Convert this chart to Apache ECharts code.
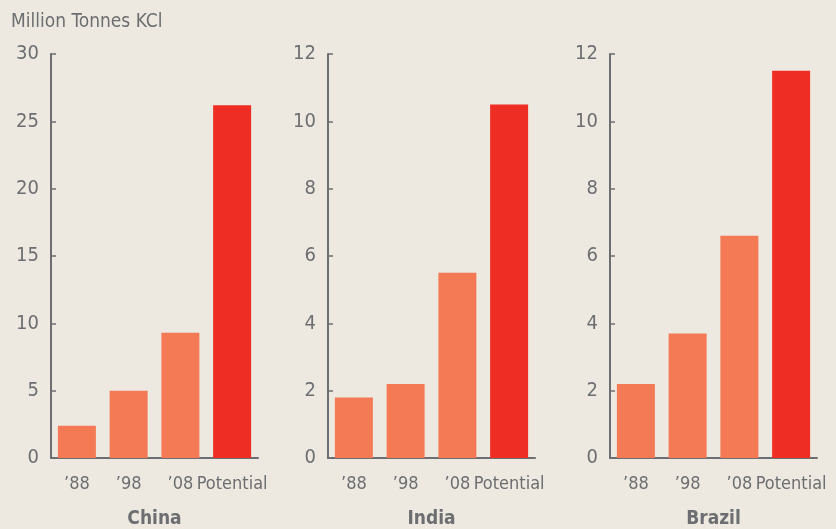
<!DOCTYPE html>
<html>
<head>
<meta charset="utf-8">
<script src="https://cdn.jsdelivr.net/npm/echarts@6/dist/echarts.min.js"></script>
<style>
  html, body { margin: 0; padding: 0; background: #ede9e0; }
  #chart { width: 836px; height: 529px; }
</style>
</head>
<body>
<div id="chart"></div>
<script>
// данные
const categories = ['\u201988', '\u201998', '\u201908', 'Potential'];
const countries = ['China', 'India', 'Brazil'];
const chinaValues = [2.4, 5.0, 9.3, 26.2];
const indiaValues = [1.8, 2.2, 5.5, 10.5];
const brazilValues = [2.2, 3.7, 6.6, 11.5];
const yMax = [30, 12, 12];
const yStep = [5, 2, 2];

const allValues = [chinaValues, indiaValues, brazilValues];
const textColor = '#6d6e71';
const font = '"DejaVu Sans Condensed", sans-serif';
const barColor = '#f47a55';
const potentialColor = '#ee2e24';

const gridLefts = [51, 328, 610];
const gridWidth = 207;

const chart = echarts.init(document.getElementById('chart'));

const option = {
    backgroundColor: '#ede9e0',
    animation: false,
    title: {
        text: 'Million Tonnes KCl',
        left: 6, top: 8,
        textStyle: { color: textColor, fontFamily: font, fontSize: 19, fontWeight: 'normal' }
    },
    grid: gridLefts.map(l => ({ left: l, width: gridWidth, top: 54, bottom: 71, outerBoundsMode: 'none' })),
    xAxis: countries.map((c, i) => ({
        type: 'category',
        gridIndex: i,
        data: categories,
        name: c,
        nameLocation: 'middle',
        nameGap: 52,
        nameTextStyle: { color: textColor, fontFamily: font, fontSize: 19, fontWeight: 'bold' },
        axisLine: { lineStyle: { color: textColor, width: 2 } },
        axisTick: { show: false },
        axisLabel: { color: textColor, fontFamily: font, fontSize: 18, margin: 17, interval: 0 }
    })),
    yAxis: countries.map((c, i) => ({
        type: 'value',
        gridIndex: i,
        min: 0,
        max: yMax[i],
        interval: yStep[i],
        axisLine: { show: true, lineStyle: { color: textColor, width: 2 } },
        axisTick: { show: true, inside: true, length: 5, lineStyle: { color: textColor, width: 1.5 } },
        splitLine: { show: false },
        axisLabel: { color: textColor, fontFamily: font, fontSize: 20, margin: 12 }
    })),
    series: allValues.map((vals, i) => ({
        type: 'bar',
        xAxisIndex: i,
        yAxisIndex: i,
        barWidth: 38,
        data: vals.map((v, j) => ({
            value: v,
            itemStyle: { color: j === vals.length - 1 ? potentialColor : barColor }
        }))
    }))
};

chart.setOption(option);
</script>
</body>
</html>
